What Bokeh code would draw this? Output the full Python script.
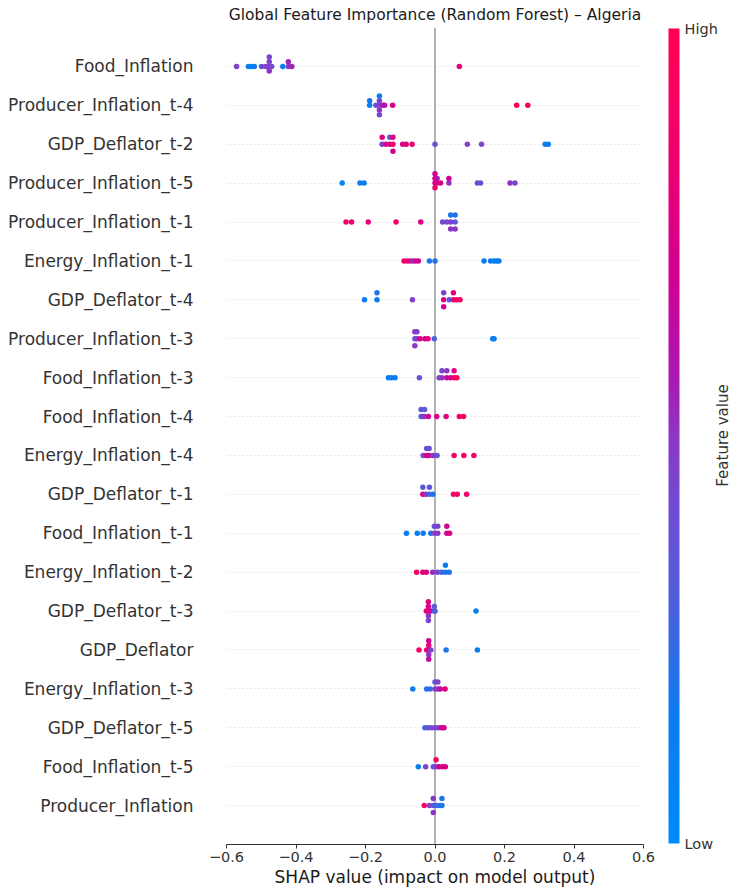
import numpy as np
from bokeh.plotting import figure
from bokeh.models import (FixedTicker, LinearColorMapper, ColorBar, Span, Label,
                          ColumnDataSource)
from bokeh.embed import file_html
from bokeh.resources import INLINE

# ---------------- data ----------------
features = ["Food_Inflation", "Producer_Inflation_t-4", "GDP_Deflator_t-2",
            "Producer_Inflation_t-5", "Producer_Inflation_t-1", "Energy_Inflation_t-1",
            "GDP_Deflator_t-4", "Producer_Inflation_t-3", "Food_Inflation_t-3",
            "Food_Inflation_t-4", "Energy_Inflation_t-4", "GDP_Deflator_t-1",
            "Food_Inflation_t-1", "Energy_Inflation_t-2", "GDP_Deflator_t-3",
            "GDP_Deflator", "Energy_Inflation_t-3", "GDP_Deflator_t-5",
            "Food_Inflation_t-5", "Producer_Inflation"]

food_infl_shap = [-0.571, -0.537, -0.528, -0.520, -0.499, -0.487, -0.477, -0.477, -0.477,
                  -0.477, -0.470, -0.438, -0.422, -0.422, -0.412, 0.070]
food_infl_fv = [0.45, 0.12, 0.12, 0.15, 0.40, 0.45, 0.50, 0.45, 0.50, 0.45, 0.40, 0.15,
                0.50, 0.55, 0.55, 0.80]

prod_t4_shap = [-0.188, -0.188, -0.170, -0.160, -0.160, -0.160, -0.160, -0.160, -0.150,
                -0.145, -0.122, 0.235, 0.267]
prod_t4_fv = [0.12, 0.18, 0.40, 0.50, 0.45, 0.50, 0.15, 0.45, 0.55, 0.60, 0.75, 0.95, 0.90]

gdp_t2_shap = [-0.152, -0.152, -0.141, -0.130, -0.130, -0.121, -0.121, -0.121, -0.093,
               -0.083, -0.066, 0.000, 0.093, 0.134, 0.317, 0.326]
gdp_t2_fv = [0.50, 0.75, 0.70, 0.75, 0.35, 0.90, 0.80, 0.70, 0.75, 0.75, 0.90, 0.40, 0.45,
             0.45, 0.15, 0.15]

prod_t5_shap = [-0.267, -0.216, -0.204, 0.000, 0.000, 0.000, 0.000, 0.006, 0.006, 0.016,
                0.040, 0.040, 0.122, 0.131, 0.216, 0.230]
prod_t5_fv = [0.10, 0.15, 0.15, 0.75, 0.80, 0.85, 0.70, 0.70, 0.60, 0.75, 0.50, 0.70,
              0.40, 0.40, 0.50, 0.45]

prod_t1_shap = [-0.256, -0.240, -0.192, -0.112, -0.041, 0.022, 0.034, 0.045, 0.045, 0.045,
                0.058, 0.058, 0.058]
prod_t1_fv = [0.90, 0.85, 0.80, 0.90, 0.75, 0.45, 0.40, 0.45, 0.20, 0.50, 0.35, 0.20, 0.50]

energy_t1_shap = [-0.089, -0.080, -0.072, -0.064, -0.056, -0.048, -0.016, 0.000, 0.141,
                  0.160, 0.170, 0.178, 0.184]
energy_t1_fv = [0.90, 0.75, 0.85, 0.50, 0.75, 0.70, 0.20, 0.20, 0.15, 0.15, 0.15, 0.15, 0.15]

gdp_t4_shap = [-0.203, -0.167, -0.167, -0.065, 0.025, 0.025, 0.025, 0.041, 0.053, 0.053,
               0.062, 0.072]
gdp_t4_fv = [0.15, 0.15, 0.20, 0.45, 0.75, 0.45, 0.70, 0.35, 0.85, 0.80, 0.90, 0.90]

prod_t3_shap = [-0.058, -0.058, -0.058, -0.052, -0.052, -0.043, -0.029, -0.020, -0.002,
                0.166, 0.170]
prod_t3_fv = [0.35, 0.50, 0.50, 0.50, 0.45, 0.70, 0.75, 0.80, 0.30, 0.15, 0.15]

food_t3_shap = [-0.134, -0.125, -0.115, -0.045, 0.012, 0.020, 0.020, 0.034, 0.034, 0.045,
                0.055, 0.055, 0.063]
food_t3_fv = [0.15, 0.15, 0.15, 0.35, 0.45, 0.50, 0.45, 0.65, 0.50, 0.70, 0.90, 0.75, 0.90]

food_t4_shap = [-0.040, -0.040, -0.035, -0.030, -0.030, -0.019, 0.005, 0.032, 0.070, 0.082]
food_t4_fv = [0.25, 0.35, 0.45, 0.50, 0.35, 0.70, 0.75, 0.75, 0.90, 0.90]

energy_t4_shap = [-0.034, -0.024, -0.024, -0.017, -0.017, -0.006, 0.006, 0.055, 0.083, 0.112]
energy_t4_fv = [0.45, 0.70, 0.40, 0.75, 0.40, 0.50, 0.35, 0.90, 0.90, 0.85]

gdp_t1_shap = [-0.035, -0.035, -0.026, -0.016, -0.016, -0.006, 0.053, 0.064, 0.091]
gdp_t1_fv = [0.75, 0.35, 0.50, 0.25, 0.35, 0.20, 0.90, 0.90, 0.90]

food_t1_shap = [-0.082, -0.051, -0.034, -0.012, -0.002, -0.002, 0.008, 0.008, 0.034, 0.034,
                0.042]
food_t1_fv = [0.15, 0.15, 0.15, 0.20, 0.45, 0.40, 0.50, 0.45, 0.70, 0.70, 0.75]

energy_t2_shap = [-0.053, -0.035, -0.025, -0.007, 0.007, 0.019, 0.030, 0.030, 0.041]
energy_t2_fv = [0.90, 0.80, 0.80, 0.50, 0.45, 0.25, 0.20, 0.15, 0.20]

gdp_t3_shap = [-0.025, -0.019, -0.019, -0.019, -0.019, -0.019, -0.012, -0.002, -0.002,
               0.000, 0.118]
gdp_t3_fv = [0.90, 0.75, 0.70, 0.50, 0.75, 0.45, 0.70, 0.35, 0.35, 0.30, 0.15]

gdp_shap = [-0.046, -0.024, -0.018, -0.018, -0.018, -0.018, -0.018, -0.012, 0.032, 0.122]
gdp_fv = [0.90, 0.85, 0.75, 0.80, 0.50, 0.70, 0.65, 0.45, 0.20, 0.15]

energy_t3_shap = [-0.064, -0.024, -0.014, 0.000, 0.000, 0.008, 0.008, 0.015, 0.029]
energy_t3_fv = [0.15, 0.20, 0.25, 0.45, 0.35, 0.50, 0.45, 0.65, 0.80]

gdp_t5_shap = [-0.029, -0.019, -0.010, 0.000, 0.010, 0.019, 0.026]
gdp_t5_fv = [0.25, 0.45, 0.35, 0.45, 0.50, 0.70, 0.70]

food_t5_shap = [-0.048, -0.027, -0.005, 0.003, 0.003, 0.012, 0.022, 0.030]
food_t5_fv = [0.15, 0.45, 0.35, 0.50, 0.90, 0.70, 0.75, 0.75]

prod_shap = [-0.031, -0.016, -0.005, -0.005, -0.005, 0.005, 0.014, 0.020, 0.020]
prod_fv = [0.90, 0.45, 0.35, 0.50, 0.50, 0.25, 0.20, 0.20, 0.20]

x_ticks = [-0.6, -0.4, -0.2, 0.0, 0.2, 0.4, 0.6]
x_tick_labels = ["\u22120.6", "\u22120.4", "\u22120.2", "0.0", "0.2", "0.4", "0.6"]

rows = [(food_infl_shap, food_infl_fv), (prod_t4_shap, prod_t4_fv), (gdp_t2_shap, gdp_t2_fv),
        (prod_t5_shap, prod_t5_fv), (prod_t1_shap, prod_t1_fv), (energy_t1_shap, energy_t1_fv),
        (gdp_t4_shap, gdp_t4_fv), (prod_t3_shap, prod_t3_fv), (food_t3_shap, food_t3_fv),
        (food_t4_shap, food_t4_fv), (energy_t4_shap, energy_t4_fv), (gdp_t1_shap, gdp_t1_fv),
        (food_t1_shap, food_t1_fv), (energy_t2_shap, energy_t2_fv), (gdp_t3_shap, gdp_t3_fv),
        (gdp_shap, gdp_fv), (energy_t3_shap, energy_t3_fv), (gdp_t5_shap, gdp_t5_fv),
        (food_t5_shap, food_t5_fv), (prod_shap, prod_fv)]


# ---------------- beeswarm layout (as in shap.summary_plot) ----------------
def beeswarm(shaps, nbins=100, row_height=0.4):
    s = np.asarray(shaps, dtype=float)
    quant = np.round(nbins * (s - s.min()) / (s.max() - s.min() + 1e-8))
    inds = np.argsort(quant, kind="stable")
    layer, last = 0, -1
    ys = np.zeros(len(s))
    for ind in inds:
        if quant[ind] != last:
            layer = 0
        ys[ind] = np.ceil(layer / 2) * ((layer % 2) * 2 - 1)
        layer += 1
        last = quant[ind]
    ys *= 0.9 * (row_height / np.max(ys + 1))
    return ys


n = len(features)
xs, ys, fvs = [], [], []
for i, (sv, fv) in enumerate(rows):
    pos = n - 1 - i
    off = beeswarm(sv)
    xs.extend(sv)
    ys.extend(list(pos + off))
    fvs.extend(fv)
src = ColumnDataSource(dict(x=xs, y=ys, fv=fvs))

# colormap (blue -> purple -> red)
anchors_t = [0.0, 0.15, 0.30, 0.42, 0.50, 0.57, 0.70, 0.85, 1.0]
anchors_rgb = [(0, 138, 250), (10, 125, 240), (80, 95, 220), (115, 75, 210), (140, 55, 195),
               (170, 25, 180), (210, 0, 145), (240, 0, 110), (255, 0, 82)]
tt = np.linspace(0, 1, 256)
arr = np.array(anchors_rgb, dtype=float)
palette = []
for t in tt:
    r = np.interp(t, anchors_t, arr[:, 0])
    g = np.interp(t, anchors_t, arr[:, 1])
    b = np.interp(t, anchors_t, arr[:, 2])
    palette.append("#%02x%02x%02x" % (int(round(r)), int(round(g)), int(round(b))))
mapper = LinearColorMapper(palette=palette, low=0, high=1)

FONT = "DejaVu Sans"
p = figure(width=732, height=890, x_range=(-0.6, 0.6), y_range=(-1, n),
           output_backend="svg", toolbar_location=None,
           min_border_left=226, min_border_right=89, min_border_top=27, min_border_bottom=46)
p.outline_line_color = None
p.background_fill_color = "white"

p.title.text = "Global Feature Importance (Random Forest) \u2013 Algeria"
p.title.align = "center"
p.title.text_font = FONT
p.title.text_font_size = "15.5px"
p.title.text_font_style = "normal"
p.title.text_color = "#1a1a1a"
p.title.standoff = 7

p.xgrid.visible = False
p.ygrid.ticker = FixedTicker(ticks=list(range(n)))
p.ygrid.grid_line_color = "#cccccc"
p.ygrid.grid_line_dash = "1 3"
p.ygrid.grid_line_width = 0.8

p.add_layout(Span(location=0, dimension="height", line_color="#999999",
                  line_width=1.5, level="underlay"))

p.scatter("x", "y", source=src, size=5.5, line_color=None,
          fill_color={"field": "fv", "transform": mapper})

xa = p.xaxis[0]
xa.ticker = FixedTicker(ticks=x_ticks)
xa.major_label_overrides = {t: l for t, l in zip(x_ticks, x_tick_labels)}
xa.minor_tick_line_color = None
xa.axis_line_color = "#333333"
xa.major_tick_line_color = "#333333"
xa.major_tick_out = 4
xa.major_tick_in = 0
xa.major_label_standoff = 3
xa.major_label_text_font = FONT
xa.major_label_text_font_size = "14.5px"
xa.major_label_text_color = "#333333"
xa.axis_label = "SHAP value (impact on model output)"
xa.axis_label_text_font = FONT
xa.axis_label_text_font_size = "17px"
xa.axis_label_text_font_style = "normal"
xa.axis_label_text_color = "#1a1a1a"
xa.axis_label_standoff = 2

ya = p.yaxis[0]
ya.ticker = FixedTicker(ticks=list(range(n)))
ya.major_label_overrides = {n - 1 - i: f for i, f in enumerate(features)}
ya.axis_line_color = None
ya.major_tick_line_color = None
ya.minor_tick_line_color = None
ya.major_tick_out = 0
ya.major_tick_in = 0
ya.major_label_standoff = 33
ya.major_label_text_font = FONT
ya.major_label_text_font_size = "17px"
ya.major_label_text_color = "#333333"

cb = ColorBar(color_mapper=mapper, ticker=FixedTicker(ticks=[0, 1]),
              major_label_overrides={0: "Low", 1: "High"},
              width=11, height=815, location=(442, 1), padding=0, margin=0,
              label_standoff=5, major_tick_line_color=None, minor_tick_line_color=None,
              bar_line_color=None, border_line_color=None, background_fill_alpha=0,
              major_label_text_font=FONT, major_label_text_font_size="14.5px",
              major_label_text_color="#333333")
p.add_layout(cb)

# "Feature value" label placed in the right-hand panel
p.add_layout(Label(x=79, y=409, x_units="screen", y_units="screen", text="Feature value",
                   angle=90, angle_units="deg", text_align="center",
                   text_baseline="middle", text_font=FONT, text_font_size="15px",
                   text_color="#333333"), "right")

open("out.html", "w").write(file_html(p, INLINE))
